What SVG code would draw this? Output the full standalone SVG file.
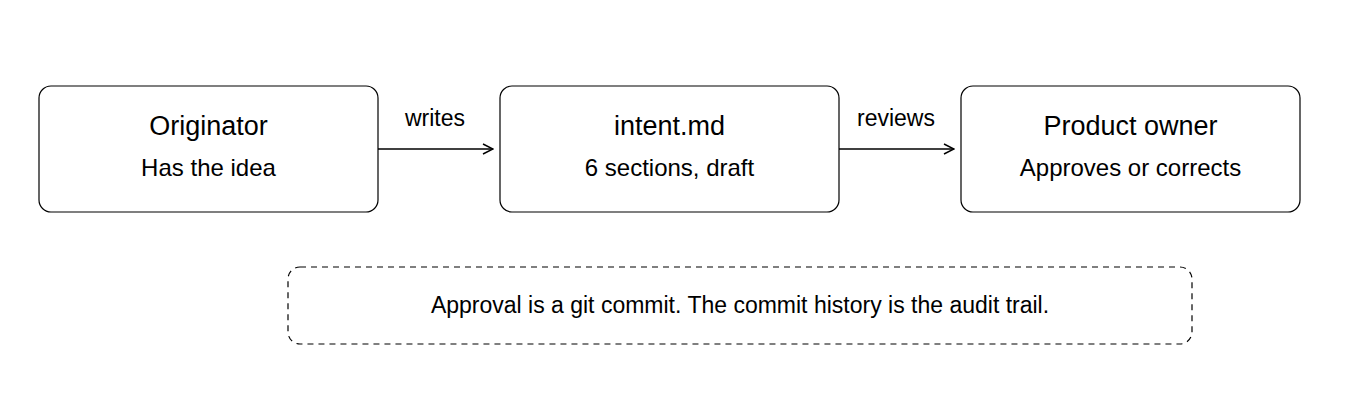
<svg xmlns="http://www.w3.org/2000/svg" width="1372" height="415" viewBox="0 0 1372 415">
<style>
.box{fill:#fff;stroke:#000;stroke-width:1.2}
.t{font-family:"Liberation Sans",Arial,sans-serif;fill:#000;text-anchor:middle}
.h{font-size:27px}.s{font-size:24px}.l{font-size:23px}
.c{stroke:#000;stroke-width:1.5;fill:none;marker-end:url(#a)}
</style>
<defs><marker id="a" markerWidth="12" markerHeight="12" refX="11" refY="6" orient="auto" markerUnits="userSpaceOnUse"><path d="M1,1 L11,6 L1,11" fill="none" stroke="#000" stroke-width="1.5"/></marker></defs>
<rect width="1372" height="415" fill="#fff"/>
<g id="originator"><rect class="box" x="39" y="86" width="339" height="126" rx="12"/><text class="t h" x="208.5" y="135">Originator</text><text class="t s" x="208.5" y="176">Has the idea</text></g>
<g id="intent"><rect class="box" x="500" y="86" width="339" height="126" rx="12"/><text class="t h" x="669.5" y="135">intent.md</text><text class="t s" x="669.5" y="176">6 sections, draft</text></g>
<g id="owner"><rect class="box" x="961" y="86" width="339" height="126" rx="12"/><text class="t h" x="1130.5" y="135">Product owner</text><text class="t s" x="1130.5" y="176">Approves or corrects</text></g>
<g id="connectors"><path class="c" d="M378,149 H493"/><path class="c" d="M839,149 H954"/>
<text class="t l" x="435" y="126">writes</text><text class="t l" x="896" y="126">reviews</text></g>
<g id="note"><rect x="288" y="267" width="904" height="77" rx="12" fill="#fff" stroke="#000" stroke-width="1.2" stroke-dasharray="6,5"/><text class="t l" x="740" y="313">Approval is a git commit. The commit history is the audit trail.</text></g>
</svg>
